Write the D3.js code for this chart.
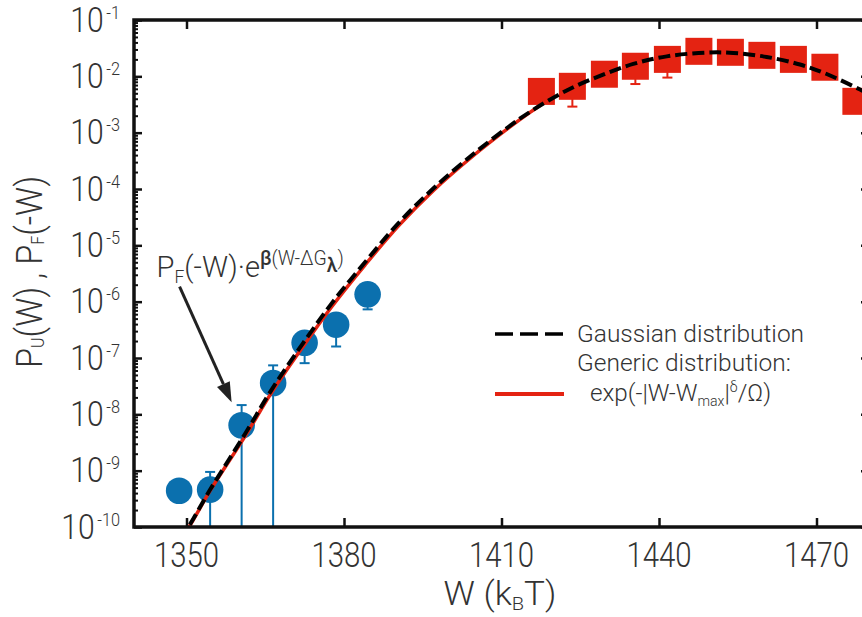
<!DOCTYPE html>
<html>
<head>
<meta charset="utf-8">
<script src="https://cdn.jsdelivr.net/npm/d3@7"></script>
<style>
  html, body { margin: 0; padding: 0; background: #fff; }
  svg { display: block; }
  text { font-family: Roboto, "Open Sans", "DejaVu Sans", sans-serif; font-weight: 300; fill: #333; }
</style>
</head>
<body>
<svg id="chart" width="862" height="617"></svg>
<script>
// ---- axis ticks ----
const xTicks = [1350, 1380, 1410, 1440, 1470];
const yExponents = [-10, -9, -8, -7, -6, -5, -4, -3, -2, -1];

// ---- unfolding work distribution P_U(W) (red squares) ----
const unfoldW = [1417.6, 1423.5, 1429.6, 1435.5, 1441.6, 1447.6, 1453.6, 1459.6, 1465.6, 1471.6, 1477.5];
const unfoldP = [5.4e-3, 6.65e-3, 1.09e-2, 1.51e-2, 2.0e-2, 2.78e-2, 2.67e-2, 2.36e-2, 2.0e-2, 1.45e-2, 3.6e-3];
const unfoldErrLow = [null, 2.9e-3, null, 7.3e-3, 9.5e-3, null, null, null, null, null, null];

// ---- reweighted folding distribution P_F(-W)·e^{β(W-ΔG)} (blue circles) ----
const foldW = [1348.6, 1354.5, 1360.5, 1366.5, 1372.5, 1378.5, 1384.5];
const foldP = [4.4e-10, 4.6e-10, 6.4e-9, 3.6e-8, 1.86e-7, 3.9e-7, 1.35e-6];
const foldErrHigh = [null, 9.5e-10, 1.46e-8, 7.4e-8, null, null, null];
const foldErrLow = [null, 0, 0, 0, 8.1e-8, 1.6e-7, 7.3e-7]; // 0: lower bound reaches the axis

// ---- Gaussian fit (black dashed) ----
const gaussW = [1348.8, 1350.34, 1354.48, 1361.14, 1366.23, 1372.25, 1377.66, 1384.0, 1390.34, 1397.0,
                1404.63, 1411.3, 1415.43, 1422.42, 1428.76, 1435.1, 1441.47, 1449.09, 1454.15, 1460.5,
                1466.86, 1471.94, 1478.29, 1482.0];
const gaussP = [6.3e-11, 1.0e-10, 4.57e-10, 4.47e-9, 2.75e-8, 1.86e-7, 9.33e-7, 5.01e-6, 2.45e-5, 1.02e-4,
                4.17e-4, 1.26e-3, 2.34e-3, 5.62e-3, 1.02e-2, 1.66e-2, 2.26e-2, 2.64e-2, 2.60e-2, 2.21e-2,
                1.62e-2, 1.10e-2, 5.82e-3, 3.80e-3];

// ---- generic stretched-exponential fit (red solid) ----
const genericW = [1348.8, 1350.34, 1354.48, 1361.14, 1366.23, 1372.25, 1377.66, 1384.0, 1390.34, 1397.0,
                  1404.63, 1411.3, 1415.43, 1419.0];
const genericP = [6.0e-11, 9.5e-11, 4.37e-10, 4.07e-9, 2.45e-8, 1.62e-7, 8.13e-7, 4.47e-6, 2.19e-5, 9.33e-5,
                  3.89e-4, 1.20e-3, 2.29e-3, 3.89e-3];

// ---- colours ----
const BLUE = "#0b70ae";
const RED = "#e42312";
const INK = "#111";

const svg = d3.select("#chart");
const plot = { left: 134, right: 869, top: 20, bottom: 527 };

const x = d3.scaleLinear().domain([1340, 1480]).range([plot.left, plot.right]);
const y = d3.scaleLog().domain([1e-10, 1e-1]).range([plot.bottom, plot.top]);

// text anchored at (px, py), optionally condensed horizontally by sx
function label(parent, px, py, anchor, size, sx, extra) {
  return parent.append("g")
    .attr("transform", `translate(${px},${py})${extra || ""} scale(${sx},1)`)
    .append("text").attr("text-anchor", anchor).style("font-size", size + "px");
}

svg.append("defs").append("clipPath").attr("id", "plotClip")
  .append("rect")
  .attr("x", plot.left).attr("y", plot.top)
  .attr("width", plot.right - plot.left).attr("height", plot.bottom - plot.top);

// ---- ticks (inward on all four sides) ----
const minorVals = [];
yExponents.forEach(e => { if (e < -1) for (let m = 2; m <= 9; m++) minorVals.push(m * Math.pow(10, e)); });
const majorVals = yExponents.map(e => Math.pow(10, e));

function styleTicks(g, w) {
  g.select(".domain").remove();
  g.selectAll(".tick line").attr("stroke", INK).attr("stroke-width", w);
  g.selectAll(".tick text").remove();
}
svg.append("g").attr("transform", `translate(${plot.left},0)`)
  .call(d3.axisLeft(y).tickValues(majorVals).tickSize(-8).tickFormat(""))
  .call(g => styleTicks(g, 2.5));
svg.append("g").attr("transform", `translate(${plot.left},0)`)
  .call(d3.axisLeft(y).tickValues(minorVals).tickSize(-4).tickFormat(""))
  .call(g => styleTicks(g, 2));
svg.append("g").attr("transform", `translate(${plot.right},0)`)
  .call(d3.axisRight(y).tickValues(majorVals).tickSize(-8).tickFormat(""))
  .call(g => styleTicks(g, 2.5));
svg.append("g").attr("transform", `translate(${plot.right},0)`)
  .call(d3.axisRight(y).tickValues(minorVals).tickSize(-4).tickFormat(""))
  .call(g => styleTicks(g, 2));
svg.append("g").attr("transform", `translate(0,${plot.bottom})`)
  .call(d3.axisBottom(x).tickValues(xTicks).tickSize(-9).tickFormat(""))
  .call(g => styleTicks(g, 2.5));
svg.append("g").attr("transform", `translate(0,${plot.top})`)
  .call(d3.axisTop(x).tickValues(xTicks).tickSize(-9).tickFormat(""))
  .call(g => styleTicks(g, 2.5));

// ---- tick labels ----
const yLab = svg.append("g");
yExponents.forEach(e => {
  const t = label(yLab, 120, y(Math.pow(10, e)) + 11.5, "end", 35, 0.86);
  t.append("tspan").text("10");
  t.append("tspan").attr("dx", 3).attr("dy", -13).style("font-size", "19px").text(String(e));
});
const xLab = svg.append("g");
xTicks.forEach(v => label(xLab, x(v), 567, "middle", 35, 0.84).text(v));

// ---- axis titles ----
const xt = label(svg, 500, 605, "middle", 33, 1.06);
xt.append("tspan").text("W (k");
xt.append("tspan").attr("dy", 5).style("font-size", "19px").text("B");
xt.append("tspan").attr("dy", -5).text("T)");

const yt = label(svg, 42, 272, "middle", 37, 0.88, " rotate(-90)");
yt.append("tspan").text("P");
yt.append("tspan").attr("dy", 2).style("font-size", "18px").text("U");
yt.append("tspan").attr("dy", -2).text("(W) , P");
yt.append("tspan").attr("dy", 2).style("font-size", "18px").text("F");
yt.append("tspan").attr("dy", -2).text("(-W)");

// ---- error bars ----
const capHalf = 5;
const errG = svg.append("g");
function yErr(v) { return v > 0 ? y(v) : plot.bottom; }
foldW.forEach((w, i) => {
  const cx = x(w), cy = y(foldP[i]);
  [foldErrHigh[i], foldErrLow[i]].forEach(v => {
    if (v === null) return;
    const ey = yErr(v);
    errG.append("line").attr("x1", cx).attr("x2", cx).attr("y1", cy).attr("y2", ey)
      .attr("stroke", BLUE).attr("stroke-width", 2);
    if (v > 0) errG.append("line").attr("x1", cx - capHalf).attr("x2", cx + capHalf).attr("y1", ey).attr("y2", ey)
      .attr("stroke", BLUE).attr("stroke-width", 2);
  });
});
unfoldW.forEach((w, i) => {
  const v = unfoldErrLow[i];
  if (v === null) return;
  const cx = x(w), cy = y(unfoldP[i]), ey = y(v);
  errG.append("line").attr("x1", cx).attr("x2", cx).attr("y1", cy).attr("y2", ey)
    .attr("stroke", RED).attr("stroke-width", 2);
  errG.append("line").attr("x1", cx - capHalf).attr("x2", cx + capHalf).attr("y1", ey).attr("y2", ey)
    .attr("stroke", RED).attr("stroke-width", 2);
});

// ---- markers ----
svg.append("g").selectAll("circle").data(foldW).join("circle")
  .attr("cx", d => x(d)).attr("cy", (d, i) => y(foldP[i])).attr("r", 13.3)
  .attr("fill", BLUE);
const sq = 27;
svg.append("g").selectAll("rect").data(unfoldW).join("rect")
  .attr("x", d => x(d) - sq / 2).attr("y", (d, i) => y(unfoldP[i]) - sq / 2)
  .attr("width", sq).attr("height", sq).attr("fill", RED);

// ---- fit curves ----
const line = d3.line().x(d => x(d[0])).y(d => y(d[1])).curve(d3.curveCatmullRom.alpha(0.5));
const curves = svg.append("g").attr("clip-path", "url(#plotClip)");
curves.append("path").attr("d", line(d3.zip(genericW, genericP)))
  .attr("fill", "none").attr("stroke", RED).attr("stroke-width", 3.5);
curves.append("path").attr("d", line(d3.zip(gaussW, gaussP)))
  .attr("fill", "none").attr("stroke", "#000").attr("stroke-width", 4)
  .attr("stroke-dasharray", "12,5");

// ---- frame ----
svg.append("rect")
  .attr("x", plot.left).attr("y", plot.top)
  .attr("width", plot.right - plot.left).attr("height", plot.bottom - plot.top)
  .attr("fill", "none").attr("stroke", INK).attr("stroke-width", 3.5);

// ---- annotation with arrow ----
const annoW = 1344.3, annoP = 2.77e-6;
const at = label(svg, x(annoW), y(annoP), "start", 30, 0.97);
at.append("tspan").text("P");
at.append("tspan").attr("dy", 6).style("font-size", "18px").text("F");
at.append("tspan").attr("dy", -6).text("(-W)·e");
at.append("tspan").attr("dy", -12).style("font-size", "20px").style("font-weight", "500").text("β");
at.append("tspan").style("font-size", "20px").text("(W-ΔG");
at.append("tspan").attr("dy", 7).style("font-size", "20px").style("font-weight", "500").text("λ");
at.append("tspan").attr("dy", -7).style("font-size", "20px").text(")");

const tgt = [x(foldW[2]) - 10, y(foldP[2]) - 23];
const src = [x(annoW) + 23, y(annoP) + 10];
const ang = Math.atan2(tgt[1] - src[1], tgt[0] - src[0]);
const headLen = 20, headW = 7;
const base = [tgt[0] - headLen * Math.cos(ang), tgt[1] - headLen * Math.sin(ang)];
svg.append("line").attr("x1", src[0]).attr("y1", src[1]).attr("x2", base[0]).attr("y2", base[1])
  .attr("stroke", "#222").attr("stroke-width", 3);
svg.append("path")
  .attr("d", `M${tgt[0]},${tgt[1]}L${base[0] + headW * Math.sin(ang)},${base[1] - headW * Math.cos(ang)}L${base[0] - headW * Math.sin(ang)},${base[1] + headW * Math.cos(ang)}Z`)
  .attr("fill", "#222");

// ---- legend ----
const lg = svg.append("g");
lg.append("line").attr("x1", 495).attr("x2", 566).attr("y1", 334).attr("y2", 334)
  .attr("stroke", "#000").attr("stroke-width", 3.5).attr("stroke-dasharray", "18,7");
label(lg, 577, 341.5, "start", 24.5, 1).text("Gaussian distribution");
lg.append("line").attr("x1", 495).attr("x2", 564).attr("y1", 394).attr("y2", 394)
  .attr("stroke", RED).attr("stroke-width", 4);
label(lg, 577, 370.5, "start", 24.5, 1).text("Generic distribution:");
const lt = label(lg, 590, 401, "start", 24, 1.01);
lt.append("tspan").text("exp(-|W-W");
lt.append("tspan").attr("dy", 5).style("font-size", "14px").text("max");
lt.append("tspan").attr("dy", -5).text("|");
lt.append("tspan").attr("dy", -9).style("font-size", "14px").text("δ");
lt.append("tspan").attr("dy", 9).text("/Ω)");
</script>
</body>
</html>
